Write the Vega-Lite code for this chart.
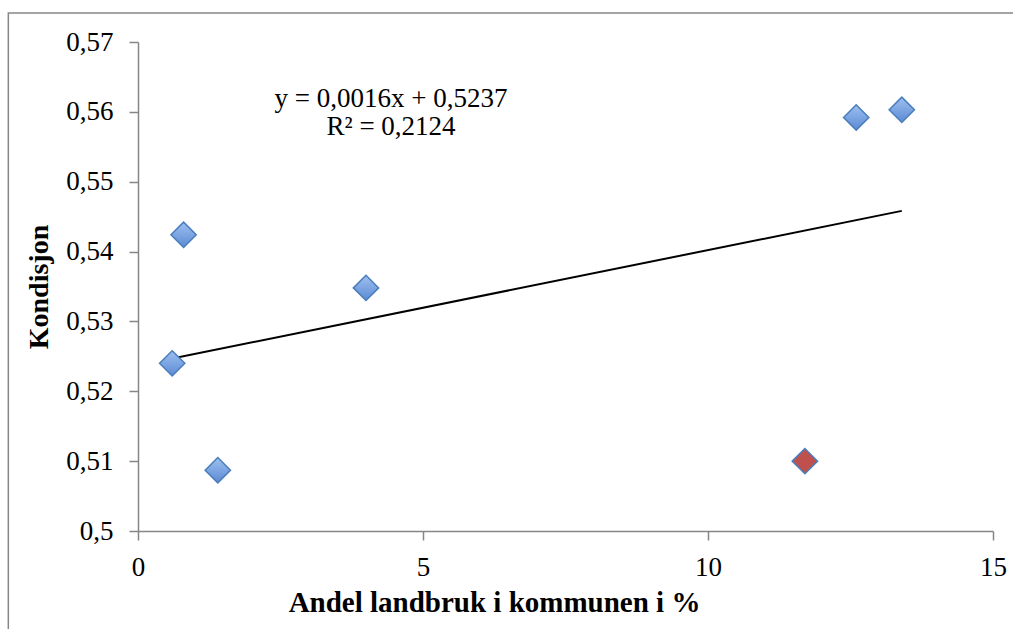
{
  "$schema": "https://vega.github.io/schema/vega-lite/v6.json",
  "autosize": {"type": "none"},
  "width": 855,
  "height": 489,
  "padding": {"left": 138, "top": 42, "right": 20, "bottom": 98},
  "background": "white",
  "config": {
    "view": {"stroke": null},
    "font": "Liberation Serif",
    "axis": {
      "domainColor": "#868686",
      "domainWidth": 1.5,
      "tickColor": "#868686",
      "tickWidth": 1.5,
      "tickSize": 9,
      "grid": false,
      "labelFlush": false,
      "labelFont": "Liberation Serif",
      "labelFontSize": 27,
      "labelFontWeight": "normal",
      "labelColor": "black",
      "titleFont": "Liberation Serif",
      "titleFontWeight": "bold",
      "titleColor": "black"
    }
  },
  "datasets": {
    "points": [
      {"x": 0.6, "y": 0.5240, "series": "A"},
      {"x": 0.8, "y": 0.5424, "series": "A"},
      {"x": 1.4, "y": 0.5087, "series": "A"},
      {"x": 4.0, "y": 0.5348, "series": "A"},
      {"x": 11.7, "y": 0.5100, "series": "B"},
      {"x": 12.6, "y": 0.5592, "series": "A"},
      {"x": 13.4, "y": 0.5603, "series": "A"}
    ],
    "single": [{"label": "trend"}]
  },
  "layer": [
    {
      "data": {"name": "single"},
      "mark": {"type": "rect", "fill": null, "stroke": "#868686", "strokeWidth": 1.5, "clip": false},
      "encoding": {
        "x": {"datum": -2.275, "type": "quantitative"},
        "x2": {"datum": 15.6},
        "y": {"datum": 0.57415, "type": "quantitative"},
        "y2": {"datum": 0.48}
      }
    },
    {
      "data": {"name": "points"},
      "transform": [{"regression": "y", "on": "x"}],
      "mark": {"type": "line", "color": "black", "strokeWidth": 2},
      "encoding": {
        "x": {"field": "x", "type": "quantitative"},
        "y": {"field": "y", "type": "quantitative"}
      }
    },
    {
      "data": {"name": "points"},
      "transform": [{"filter": "datum.series === 'A'"}],
      "mark": {
        "type": "point",
        "shape": "diamond",
        "size": 640,
        "filled": true,
        "fill": {"gradient": "linear", "x1": 0, "y1": 0, "x2": 0, "y2": 1, "stops": [{"offset": 0, "color": "#9ec0f0"}, {"offset": 1, "color": "#5b8ad4"}]},
        "stroke": "#4a7ebb",
        "strokeWidth": 1.5,
        "opacity": 1
      },
      "encoding": {
        "x": {
          "field": "x", "type": "quantitative",
          "scale": {"domain": [0, 15], "nice": false, "zero": false},
          "axis": {"values": [0, 5, 10, 15], "format": "d", "title": "Andel landbruk i kommunen i %", "titleFontSize": 29, "labelPadding": 14, "titlePadding": 8, "titleX": 356, "titleAlign": "center", "titleAnchor": null}
        },
        "y": {
          "field": "y", "type": "quantitative",
          "scale": {"domain": [0.5, 0.57], "nice": false, "zero": false},
          "axis": {
            "values": [0.5, 0.51, 0.52, 0.53, 0.54, 0.55, 0.56, 0.57],
            "labelExpr": "replace(format(datum.value, '.2~f'), '.', ',')",
            "title": "Kondisjon",
            "titleFontSize": 28,
            "labelPadding": 16,
            "titlePadding": 12
          }
        }
      }
    },
    {
      "data": {"name": "points"},
      "transform": [{"filter": "datum.series === 'B'"}],
      "mark": {
        "type": "point",
        "shape": "diamond",
        "size": 640,
        "filled": true,
        "fill": "#c0504d",
        "stroke": "#4a7ebb",
        "strokeWidth": 1.5,
        "opacity": 1
      },
      "encoding": {
        "x": {"field": "x", "type": "quantitative"},
        "y": {"field": "y", "type": "quantitative"}
      }
    },
    {
      "data": {"name": "single"},
      "mark": {"type": "text", "align": "center", "baseline": "middle", "fontSize": 27, "fontWeight": "normal", "lineHeight": 28, "font": "Liberation Serif", "color": "black"},
      "encoding": {
        "x": {"datum": 4.44, "type": "quantitative"},
        "y": {"datum": 0.5618, "type": "quantitative"},
        "text": {"value": ["y = 0,0016x + 0,5237", "R² = 0,2124"]}
      }
    }
  ]
}
